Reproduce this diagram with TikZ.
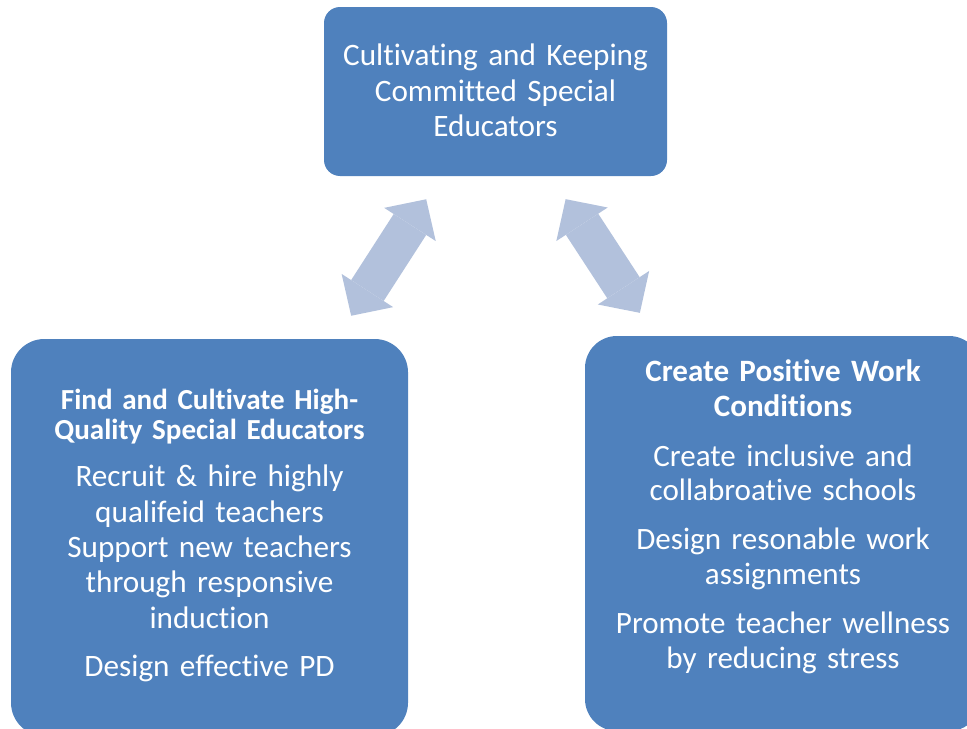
\documentclass[tikz,border=0pt]{standalone}
\usepackage{fontspec}
\setmainfont{Carlito}[Ligatures=NoCommon]
\usetikzlibrary{arrows.meta}

\definecolor{boxblue}{HTML}{4F81BD}
\definecolor{linkblue}{HTML}{B2C1DC}

\tikzset{
    box/.style  = {rectangle, fill=boxblue, draw=none, inner sep=0pt},
    txt/.style  = {text=white, text width=300pt, align=center,
                   inner sep=0pt, anchor=base},
    link/.style = {color=linkblue, line width=29pt,
                   shorten <=20.5pt, shorten >=20.5pt,
                   arrows={Triangle[width=46pt,length=22.5pt,line width=0pt]-%
                           Triangle[width=46pt,length=22.5pt,line width=0pt]}}
}

\begin{document}
\begin{tikzpicture}[x=0.75pt, y=-0.75pt]
    \clip (0,0) rectangle (967,728);

    \node[box, minimum width=257.25pt, minimum height=126.75pt,
          rounded corners=12pt] (keep) at (495.5,91.5) {};
    \node[box, minimum width=297.75pt, minimum height=297.75pt,
          rounded corners=25pt] (find) at (209.5,537.5) {};
    \node[box, minimum width=297pt, minimum height=296.25pt,
          rounded corners=24pt] (work) at (783,533.5) {};

    \node[txt, font=\fontsize{23.4}{26.6}\selectfont] (keep-text)
        at (495.5,65.7) {Cultivating and Keeping\\Committed Special\\Educators};

    \node[txt, font=\bfseries\fontsize{21.8}{23}\selectfont] (find-head)
        at (209.5,409.3) {Find and Cultivate High-\\Quality Special Educators};
    \node[txt, font=\fontsize{23.4}{26.5}\selectfont] (find-list)
        at (209.5,486.7) {Recruit \& hire highly\\qualifeid teachers\\
        Support new teachers\\through responsive\\induction\\[10pt]
        Design effective PD};

    \node[txt, font=\bfseries\fontsize{23.3}{26.8}\selectfont] (work-head)
        at (783,381) {Create Positive Work\\Conditions};
    \node[txt, font=\fontsize{23.3}{25.9}\selectfont] (work-list)
        at (783,466) {Create inclusive and\\collabroative schools\\[11pt]
        Design resonable work\\assignments\\[11pt]
        Promote teacher wellness\\by reducing stress};

    \draw[link] (keep) -- (find);
    \draw[link] (keep) -- (work);
\end{tikzpicture}
\end{document}
